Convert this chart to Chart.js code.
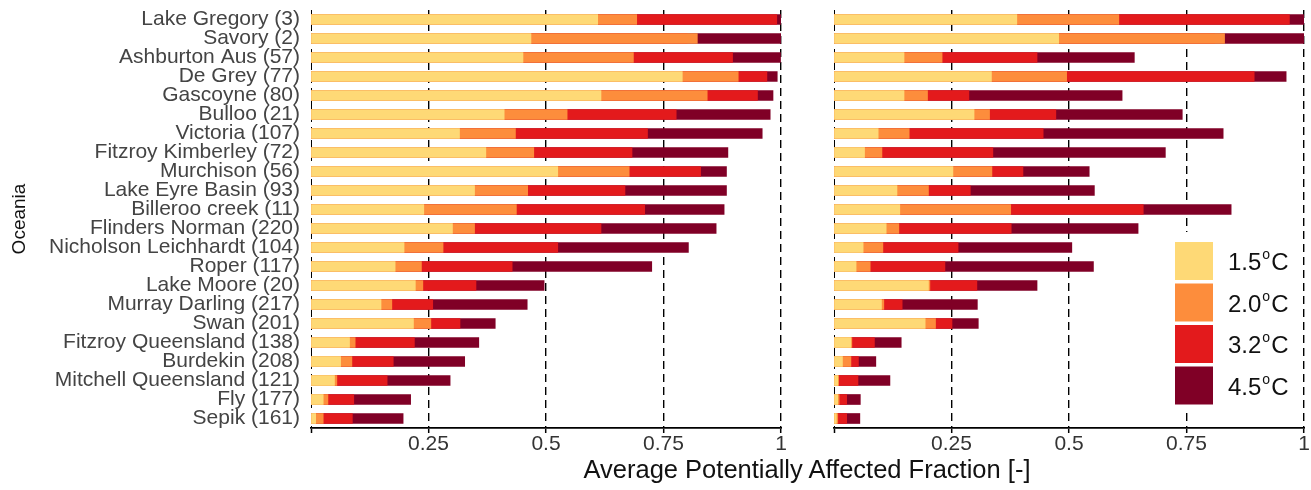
<!DOCTYPE html>
<html><head><meta charset="utf-8">
<script src="https://cdn.jsdelivr.net/npm/chart.js@4/dist/chart.umd.min.js"></script>
<style>
html,body{margin:0;padding:0;background:#fff;}
#wrap{position:relative;width:1311px;height:490px;overflow:hidden;}
#c1{position:absolute;left:0;top:0;}
#c2{position:absolute;left:800px;top:0;}
#xt{position:absolute;left:7px;width:1600px;top:457px;line-height:25.5px;text-align:center;font-family:"Liberation Sans",Arial,sans-serif;font-size:25.5px;color:#111;white-space:nowrap;}
</style></head>
<body><div id="wrap">
<canvas id="c1" width="800" height="490"></canvas>
<canvas id="c2" width="511" height="490"></canvas>
<div id="xt">Average Potentially Affected Fraction [-]</div>
</div>
<script>
const categories = ["Lake Gregory (3)","Savory (2)","Ashburton Aus (57)","De Grey (77)","Gascoyne (80)","Bulloo (21)","Victoria (107)","Fitzroy Kimberley (72)","Murchison (56)","Lake Eyre Basin (93)","Billeroo creek (11)","Flinders Norman (220)","Nicholson Leichhardt (104)","Roper (117)","Lake Moore (20)","Murray Darling (217)","Swan (201)","Fitzroy Queensland (138)","Burdekin (208)","Mitchell Queensland (121)","Fly (177)","Sepik (161)"];
const seriesLabels = ["1.5","2.0","3.2","4.5"];
const xTicks = [0, 0.25, 0.5, 0.75, 1];

const leftT15 = [0.610,0.468,0.451,0.790,0.617,0.411,0.316,0.372,0.525,0.348,0.240,0.301,0.198,0.179,0.222,0.149,0.218,0.082,0.063,0.050,0.026,0.010];
const leftT20 = [0.693,0.822,0.686,0.909,0.843,0.545,0.435,0.474,0.677,0.461,0.437,0.348,0.281,0.235,0.238,0.172,0.255,0.094,0.087,0.055,0.036,0.026];
const leftT32 = [0.991,0.800,0.897,0.970,0.950,0.777,0.716,0.683,0.829,0.668,0.710,0.617,0.525,0.428,0.351,0.259,0.317,0.220,0.175,0.162,0.091,0.088];
const leftT45 = [1.000,1.000,0.999,0.992,0.983,0.977,0.960,0.887,0.884,0.884,0.879,0.862,0.803,0.725,0.496,0.460,0.392,0.357,0.327,0.296,0.212,0.196];

const rightT15 = [0.389,0.478,0.149,0.335,0.149,0.298,0.094,0.065,0.253,0.134,0.140,0.111,0.062,0.047,0.201,0.101,0.194,0.036,0.018,0.008,0.008,0.005];
const rightT20 = [0.606,0.831,0.230,0.495,0.199,0.331,0.160,0.102,0.336,0.201,0.376,0.138,0.104,0.077,0.204,0.106,0.216,0.038,0.036,0.010,0.011,0.008];
const rightT32 = [0.969,0.810,0.432,0.894,0.287,0.472,0.445,0.338,0.402,0.290,0.658,0.377,0.264,0.236,0.304,0.145,0.251,0.086,0.052,0.051,0.027,0.027];
const rightT45 = [1.000,1.000,0.639,0.962,0.613,0.741,0.828,0.705,0.543,0.554,0.845,0.647,0.506,0.552,0.432,0.305,0.307,0.143,0.089,0.119,0.056,0.055];

const colors = ["#FED976","#FD8D3C","#E31A1C","#800026"];

function makeDatasets(arrs){
  return arrs.map((d,i)=>({
    label: seriesLabels[i] + "°C",
    data: d,
    backgroundColor: colors[i],
    borderWidth: 0,
    barThickness: 10,
    grouped: false,
    order: i + 1
  }));
}

function xScale(){
  return {
    type: 'linear', min: 0, max: 1,
    afterBuildTicks: s => { s.ticks = xTicks.map(v => ({value: v})); },
    afterFit: s => { s.height = 62; s.paddingLeft = 0; s.paddingRight = 0; },
    grid: {
      color: '#000',
      lineWidth: ctx => (ctx.index === 0 ? 1 : 1.4),
      drawTicks: true, tickLength: 5, tickColor: '#000', tickWidth: 1.5
    },
    border: { display: true, color: '#000', width: 1.8, dash: [8,5] },
    ticks: {
      color: '#333', padding: -1, maxRotation: 0,
      font: { family: '"Liberation Sans", Arial, sans-serif', size: 21 },
      callback: v => (v === 0 ? '' : String(v))
    }
  };
}

const legendPlugin = {
  id: 'tempLegend',
  afterDraw(chart){
    const ctx = chart.ctx;
    ctx.save();
    ctx.fillStyle = '#fff';
    ctx.fillRect(363, 232, 138, 180);
    const ys = [242, 283.5, 325, 366.5];
    for (let i = 0; i < 4; i++){
      ctx.fillStyle = colors[i];
      ctx.fillRect(375, ys[i], 38, 38);
      ctx.fillStyle = '#111';
      ctx.textBaseline = 'alphabetic';
      ctx.font = '24px "Liberation Sans", Arial, sans-serif';
      const base = ys[i] + 28;
      ctx.fillText(seriesLabels[i], 428, base);
      const w = ctx.measureText(seriesLabels[i]).width;
      ctx.font = '14px "Liberation Sans", Arial, sans-serif';
      ctx.fillText('o', 428 + w + 1, base - 11);
      const w2 = ctx.measureText('o').width;
      ctx.font = '24px "Liberation Sans", Arial, sans-serif';
      ctx.fillText('C', 428 + w + w2 + 2, base);
    }
    ctx.restore();
  }
};

function yFit(width){
  return s => { s.width = width; s.paddingTop = 0; s.paddingBottom = 0; };
}

new Chart(document.getElementById('c1'), {
  type: 'bar',
  data: { labels: categories, datasets: makeDatasets([leftT15, leftT20, leftT32, leftT45]) },
  options: {
    indexAxis: 'y', responsive: false, animation: false,
    layout: { padding: { top: 10, right: 19, bottom: 0, left: 0 } },
    plugins: { legend: { display: false }, tooltip: { enabled: false } },
    scales: {
      x: xScale(),
      y: {
        type: 'category', offset: true,
        afterFit: yFit(311),
        grid: { display: false, drawTicks: false },
        border: { display: false },
        title: { display: true, text: 'Oceania', color: '#111', padding: { top: 8, bottom: 0 },
                 font: { family: '"Liberation Sans", Arial, sans-serif', size: 19 } },
        ticks: { color: '#444', padding: 11, autoSkip: false,
                 font: { family: '"Liberation Sans", Arial, sans-serif', size: 21 } }
      }
    }
  }
});

new Chart(document.getElementById('c2'), {
  type: 'bar',
  data: { labels: categories, datasets: makeDatasets([rightT15, rightT20, rightT32, rightT45]) },
  options: {
    indexAxis: 'y', responsive: false, animation: false,
    layout: { padding: { top: 10, right: 7, bottom: 0, left: 0 } },
    plugins: { legend: { display: false }, tooltip: { enabled: false } },
    scales: {
      x: xScale(),
      y: {
        type: 'category', offset: true,
        afterFit: yFit(34),
        grid: { display: false, drawTicks: false },
        border: { display: false },
        ticks: { display: false }
      }
    }
  },
  plugins: [legendPlugin]
});
</script>
</body></html>
